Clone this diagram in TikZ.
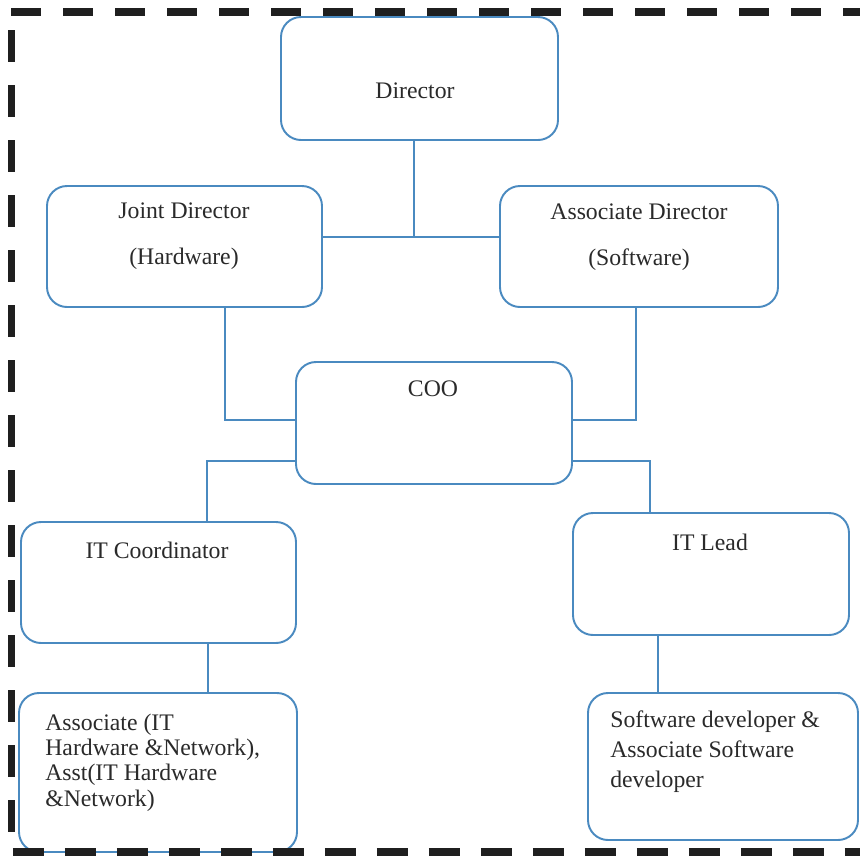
\documentclass[tikz,border=0pt]{standalone}
\usepackage{fontspec}
\setmainfont{Liberation Serif}
\definecolor{boxblue}{RGB}{74,138,192}
\definecolor{inkgray}{RGB}{42,42,42}

\begin{document}
\begin{tikzpicture}[every node/.style={font=\fontsize{13.5}{16}\selectfont, text=inkgray, inner sep=0pt},
  box/.style={draw=boxblue, line width=1.1pt, rounded corners=0.4cm, fill=white},
  link/.style={draw=boxblue, line width=1.1pt},
  border/.style={line width=0.15cm, black!88}]

  \useasboundingbox (0,0) rectangle (17.2,-17.22);

  \node[box, minimum width=5.54cm, minimum height=2.46cm] (dir) at (8.39,-1.57) {};
  \node[box, minimum width=5.50cm, minimum height=2.42cm] (jd) at (3.69,-4.93) {};
  \node[box, minimum width=5.56cm, minimum height=2.42cm] (ad) at (12.78,-4.93) {};
  \node[box, minimum width=5.52cm, minimum height=2.44cm] (coo) at (8.68,-8.46) {};
  \node[box, minimum width=5.50cm, minimum height=2.42cm] (itc) at (3.17,-11.65) {};
  \node[box, minimum width=5.52cm, minimum height=2.44cm] (itl) at (14.22,-11.48) {};
  \node[box, minimum width=5.56cm, minimum height=3.18cm] (asc) at (3.16,-15.45) {};
  \node[box, minimum width=5.40cm, minimum height=2.94cm] (swd) at (14.46,-15.33) {};

  \coordinate (tee) at (8.28,-4.74);
  \draw[link] (tee |- dir.south) -- (tee);
  \draw[link] (jd.east |- tee) -- (ad.west |- tee);
  \draw[link] ([xshift=0.81cm]jd.south) |- ([yshift=0.06cm]coo.west);
  \draw[link] ([xshift=-0.06cm]ad.south) |- ([yshift=0.06cm]coo.east);
  \draw[link] ([yshift=-0.76cm]coo.west) -| ([xshift=0.97cm]itc.north);
  \draw[link] ([yshift=-0.76cm]coo.east) -| ([xshift=-1.22cm]itl.north);
  \draw[link] ([xshift=0.99cm]itc.south) -- ([xshift=1.0cm]asc.north);
  \draw[link] ([xshift=-1.06cm]itl.south) -- ([xshift=-1.30cm]swd.north);

  \node (dirlbl) at (8.30,-1.82) {Director};
  \node[align=center] (jdlbl) at (3.68,-4.73) {Joint Director\\[10pt](Hardware)};
  \node[align=center] (adlbl) at (12.78,-4.75) {Associate Director\\[10pt](Software)};
  \node (coolbl) at (8.66,-7.78) {COO};
  \node (itclbl) at (3.14,-11.0) {IT Coordinator};
  \node (itllbl) at (14.20,-10.84) {IT Lead};
  \node[align=left, anchor=west, font=\fontsize{13.5}{14.4}\selectfont] (asclbl) at (0.90,-15.25)
    {Associate (IT\\Hardware \&Network),\\Asst(IT Hardware\\\&Network)};
  \node[align=left, anchor=west, font=\fontsize{13.5}{17}\selectfont] (swdlbl) at (12.20,-15.04)
    {Software developer \&\\Associate Software\\developer};

  \draw[border, dash pattern=on 0.6cm off 0.44cm] (0.22,-0.24) -- (17.2,-0.24);
  \draw[border, dash pattern=on 0.64cm off 0.46cm] (0.23,-0.6) -- (0.23,-17.0);
  \draw[border, dash pattern=on 0.62cm off 0.42cm] (0.26,-17.04) -- (17.2,-17.04);
\end{tikzpicture}
\end{document}
